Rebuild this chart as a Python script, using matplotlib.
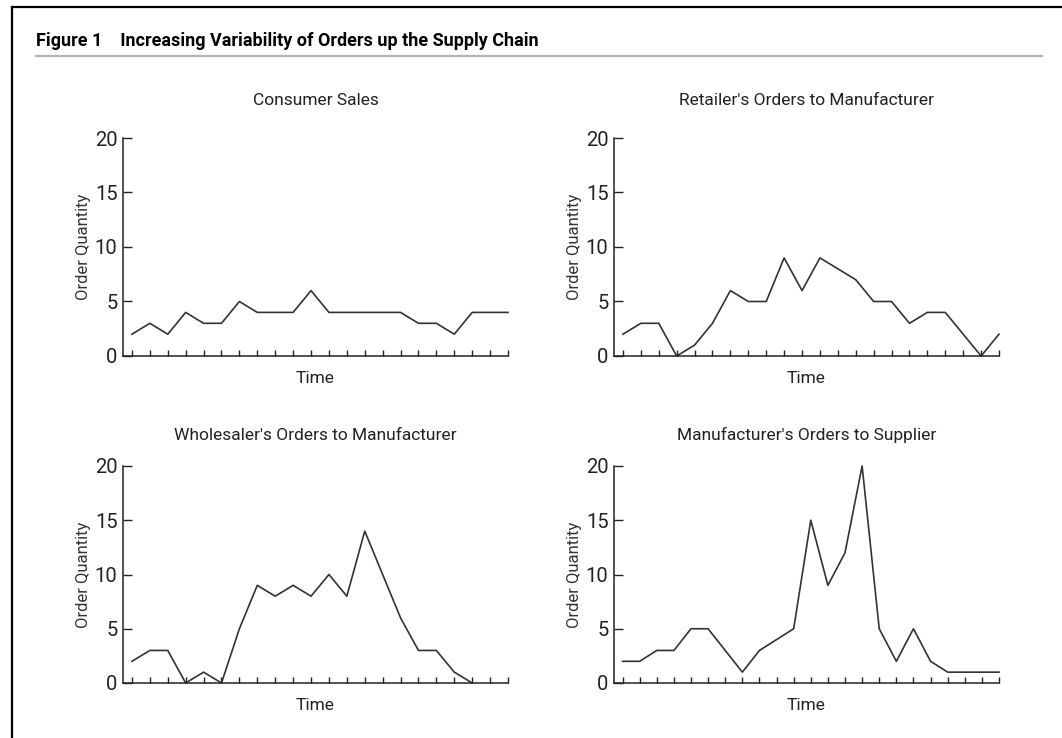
import matplotlib
matplotlib.use("Agg")
import matplotlib.pyplot as plt
from matplotlib.lines import Line2D

plt.rcParams["font.family"] = ["Roboto", "DejaVu Sans"]

# order quantities (one value per time tick)
consumer_sales = [2, 3, 2, 4, 3, 3, 5, 4, 4, 4, 6, 4, 4, 4, 4, 4, 3, 3, 2, 4, 4, 4]
retailer_orders = [2, 3, 3, 0, 1, 3, 6, 5, 5, 9, 6, 9, 8, 7, 5, 5, 3, 4, 4, 2, 0, 2]
wholesaler_orders = [2, 3, 3, 0, 1, 0, 5, 9, 8, 9, 8, 10, 8, 14, 10, 6, 3, 3, 1, 0]
manufacturer_orders = [2, 2, 3, 3, 5, 5, 3, 1, 3, 4, 5, 15, 9, 12, 20, 5, 2, 5, 2, 1, 1, 1, 1]

panel_titles = [
    "Consumer Sales",
    "Retailer's Orders to Manufacturer",
    "Wholesaler's Orders to Manufacturer",
    "Manufacturer's Orders to Supplier",
]
tick_counts = [22, 22, 22, 23]
y_ticks = [0, 5, 10, 15, 20]

W, H = 1062, 738
fig = plt.figure(figsize=(W / 100, H / 100), dpi=100)

# axes boxes in pixels: left, top, right, bottom
boxes = [
    (123, 138, 508, 356),
    (614, 138, 999, 356),
    (123, 466, 508, 683),
    (614, 466, 999, 683),
]
series = [consumer_sales, retailer_orders, wholesaler_orders, manufacturer_orders]
ink = "#222222"

for box, data, title, nt in zip(boxes, series, panel_titles, tick_counts):
    l, t, r, b = box
    ax = fig.add_axes([l / W, 1 - b / H, (r - l) / W, (b - t) / H])
    ax.plot(range(len(data)), data, color="#333333", lw=1.2, clip_on=False)
    ax.set_xlim(-0.5, nt - 1)
    ax.set_ylim(0, 20)
    ax.set_xticks(range(nt))
    ax.set_xticklabels([])
    ax.set_yticks(y_ticks)
    ax.set_yticklabels([str(v) for v in y_ticks])
    ax.tick_params(axis="x", direction="in", length=4.5, width=1, color=ink)
    ax.tick_params(axis="y", direction="in", length=6.5, width=1, color=ink,
                   labelsize=14.5, labelcolor=ink, pad=4)
    for side in ("top", "right"):
        ax.spines[side].set_visible(False)
    for side in ("left", "bottom"):
        ax.spines[side].set_color(ink)
        ax.spines[side].set_linewidth(1.1)
    ax.set_xlabel("Time", fontsize=12.5, color=ink, labelpad=7)
    ax.set_ylabel("Order Quantity", fontsize=12, color="#333333", labelpad=3)
    ax.set_title(title, fontsize=12.5, color=ink, pad=24 if t < 200 else 19)
    ax.patch.set_visible(False)

# heading with grey rule underneath
fig.text(36 / W, 1 - 41 / H, "Figure 1    Increasing Variability of Orders up the Supply Chain",
         fontsize=13, fontweight="bold", color="black", va="center")
fig.add_artist(Line2D([36 / W, 1042 / W], [1 - 56 / H, 1 - 56 / H],
                      color="#b4b4b4", lw=1.6))

# outer frame (top and left edges)
fig.add_artist(Line2D([12 / W, 1.0], [1 - 7 / H, 1 - 7 / H], color="black", lw=1.6))
fig.add_artist(Line2D([12 / W, 12 / W], [0, 1 - 7 / H], color="black", lw=1.6))

fig.savefig("out.png", dpi=100)
